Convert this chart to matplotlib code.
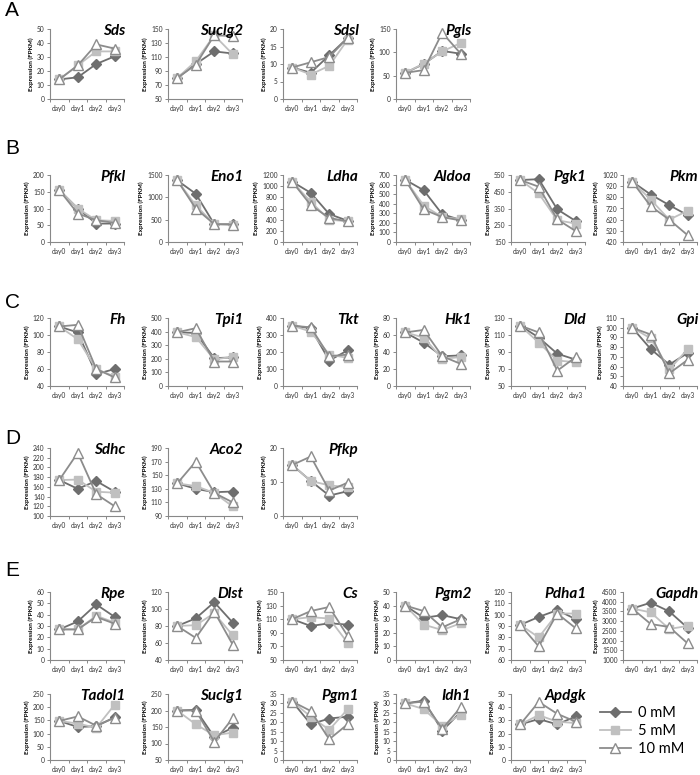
import numpy as np
import matplotlib
matplotlib.use("Agg")
import matplotlib.pyplot as plt

plt.rcParams['font.family'] = ['Lato', 'DejaVu Sans']

days = ["day0", "day1", "day2", "day3"]
conc = ["0 mM", "5 mM", "10 mM"]

# row A
genes_a = ["Sds", "Suclg2", "Sdsl", "Pgls"]
ax_a = [(0, 50, 10), (50, 150, 20), (0, 20, 5), (0, 150, 50)]
a_0 = [[14, 15.5, 25, 30.5], [80, 100, 118, 115], [9, 7.5, 12.5, 17.5], [56, 75, 103, 97]]
a_5 = [[14, 24, 34, 34], [80, 104, 141, 114], [9, 7, 9.5, 17], [56, 76, 102, 120]]
a_10 = [[14, 24, 39, 36], [80, 99, 141, 140], [9, 10.5, 12, 17.5], [56, 62, 142, 97]]

# row B
genes_b = ["Pfkl", "Eno1", "Ldha", "Aldoa", "Pgk1", "Pkm"]
ax_b = [(0, 200, 50), (0, 1500, 500), (0, 1200, 200), (0, 700, 100), (150, 550, 100), (420, 1020, 100)]
b_0 = [[155, 100, 55, 55], [1380, 1080, 400, 400], [1080, 880, 500, 380],
       [650, 540, 290, 230], [520, 525, 345, 275], [960, 845, 750, 660]]
b_5 = [[155, 100, 65, 63], [1380, 820, 400, 390], [1080, 720, 400, 370],
       [650, 380, 260, 240], [520, 440, 280, 260], [960, 800, 620, 700]]
b_10 = [[155, 85, 65, 57], [1380, 750, 400, 390], [1080, 660, 430, 370],
        [650, 340, 260, 225], [520, 480, 285, 215], [960, 740, 620, 480]]

# row C
genes_c = ["Fh", "Tpi1", "Tkt", "Hk1", "Dld", "Gpi"]
ax_c = [(40, 120, 20), (0, 500, 100), (0, 400, 100), (0, 80, 20), (50, 130, 20), (40, 110, 10)]
c_0 = [[110, 103, 54, 60], [395, 390, 205, 210], [355, 340, 150, 210],
       [63, 51, 35, 36], [121, 107, 88, 81], [100, 78, 62, 74]]
c_5 = [[110, 95, 60, 51], [395, 360, 195, 215], [355, 320, 185, 165],
       [63, 57, 32, 34], [121, 101, 80, 78], [100, 89, 57, 78]]
c_10 = [[110, 112, 60, 50], [395, 425, 180, 180], [355, 345, 175, 185],
        [63, 66, 35, 26], [121, 113, 68, 84], [100, 93, 53, 67]]

# row D
genes_d = ["Sdhc", "Aco2", "Pfkp"]
ax_d = [(100, 240, 20), (90, 190, 20), (0, 20, 10)]
d_0 = [[174, 156, 172, 150], [138, 130, 125, 126], [15, 10.3, 6, 7.3]]
d_5 = [[174, 175, 150, 148], [138, 134, 124, 104], [15, 10.3, 9, 8.5]]
d_10 = [[174, 230, 145, 120], [138, 170, 124, 110], [15, 17.5, 7.5, 9.8]]

# row E (first line)
genes_e1 = ["Rpe", "Dlst", "Cs", "Pgm2", "Pdha1", "Gapdh"]
ax_e1 = [(0, 60, 10), (40, 120, 20), (50, 150, 20), (0, 50, 10), (60, 120, 10), (1000, 4500, 500)]
e1_0 = [[27, 34, 49, 38], [80, 89, 108, 84], [110, 100, 104, 102],
        [40, 31, 33, 30], [91, 98, 104, 96], [3650, 3950, 3500, 2650]]
e1_5 = [[27, 27, 39, 33], [80, 81, 95, 69], [110, 113, 111, 75],
        [40, 26, 22, 27], [91, 80, 101, 101], [3650, 3450, 2600, 2750]]
e1_10 = [[27, 27, 38, 32], [80, 66, 97, 58], [110, 122, 128, 85],
         [40, 36, 24, 30], [91, 72, 101, 88], [3650, 2850, 2700, 1850]]

# row E (second line)
genes_e2 = ["Tadol1", "Suclg1", "Pgm1", "Idh1", "Apdgk"]
ax_e2 = [(0, 250, 50), (50, 250, 50), (0, 35, 5), (0, 35, 5), (0, 50, 10)]
e2_0 = [[148, 125, 128, 162], [200, 202, 120, 148], [31, 19, 22, 23],
        [30, 31.5, 15.5, 25.5], [27, 31, 27, 33]]
e2_5 = [[148, 138, 122, 210], [200, 158, 125, 133], [31, 23, 16, 27],
        [30, 27, 18, 24], [27, 34, 29, 28]]
e2_10 = [[148, 165, 130, 160], [200, 200, 105, 177], [31, 26, 11, 19],
         [30, 31, 16.5, 28], [27, 44, 35, 29]]

W, H = 700, 775
fig = plt.figure(figsize=(7, 7.75), dpi=100)

col_x = [50, 168, 283, 396, 511, 623]
pw = 74

styles = [
    dict(color="#6e6e6e", marker="D", ms=5, mfc="#6e6e6e", mec="#6e6e6e", lw=1.3),
    dict(color="#c0c0c0", marker="s", ms=6, mfc="#c0c0c0", mec="#c0c0c0", lw=1.3),
    dict(color="#8c8c8c", marker="^", ms=7, mfc="white", mec="#8c8c8c", mew=1.0, lw=1.3),
]


def panel(x0, top, bot, gene, yl, v0, v5, v10):
    ax = fig.add_axes([x0 / W, 1 - bot / H, pw / W, (bot - top) / H])
    xs = np.arange(4) + 0.5
    hs = []
    for vals, st, lab in zip([v0, v5, v10], styles, conc):
        h, = ax.plot(xs, vals, label=lab, clip_on=False, **st)
        hs.append(h)
    lo, hi, step = yl
    ax.set_ylim(lo, hi)
    ax.set_yticks(np.arange(lo, hi + step / 2, step))
    ax.set_xlim(0, 4)
    ax.set_xticks([0, 1, 2, 3, 4])
    ax.set_xticklabels([])
    ax.set_xticks(xs, minor=True)
    ax.set_xticklabels(days, minor=True)
    ax.tick_params(axis="x", which="minor", length=0, labelsize=4.8, pad=4, colors="#333333")
    ax.tick_params(axis="x", which="major", length=2.5, width=0.7, color="#888888")
    ax.tick_params(axis="y", length=2.5, width=0.7, labelsize=4.8, pad=1.5, color="#888888", labelcolor="#333333")
    for s in ["top", "right"]:
        ax.spines[s].set_visible(False)
    for s in ["left", "bottom"]:
        ax.spines[s].set_color("#888888")
        ax.spines[s].set_linewidth(0.8)
    ax.set_ylabel("Expression (FPKM)", fontsize=4.6, fontweight="bold", labelpad=2)
    ax.text(1.02, 0.97, gene, transform=ax.transAxes, ha="right", va="center",
            fontsize=11, fontweight="bold", fontstyle="italic")
    return hs


rows = [
    (29, 99, genes_a, ax_a, a_0, a_5, a_10),
    (175, 242, genes_b, ax_b, b_0, b_5, b_10),
    (318, 386, genes_c, ax_c, c_0, c_5, c_10),
    (448, 516, genes_d, ax_d, d_0, d_5, d_10),
    (592, 660, genes_e1, ax_e1, e1_0, e1_5, e1_10),
    (694, 760, genes_e2, ax_e2, e2_0, e2_5, e2_10),
]

handles = None
for top, bot, genes, yls, v0, v5, v10 in rows:
    for i, g in enumerate(genes):
        handles = panel(col_x[i], top, bot, g, yls[i], v0[i], v5[i], v10[i])

for letter, y in zip("ABCDE", [10, 148, 302, 438, 571]):
    fig.text(5 / W, 1 - y / H, letter, fontsize=15, va="center", ha="left",
             family="Liberation Sans")

fig.legend(handles=handles, labels=conc, loc="center left",
           bbox_to_anchor=(600 / W, 1 - 731 / H), frameon=False,
           borderaxespad=0, borderpad=0,
           fontsize=10.5, handlelength=2.1, labelspacing=0.3, handletextpad=0.5)

fig.savefig("out.png", dpi=100)
